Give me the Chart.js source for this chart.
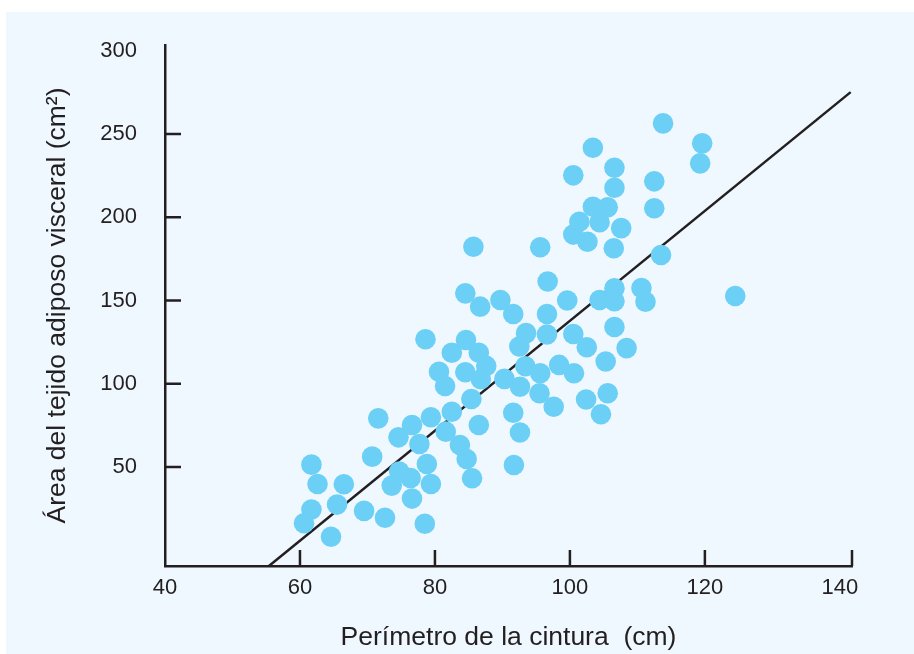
<!DOCTYPE html>
<html>
<head>
<meta charset="utf-8">
<script src="https://cdn.jsdelivr.net/npm/chart.js@4.4.1/dist/chart.umd.min.js"></script>
<style>
  html, body { margin: 0; padding: 0; background: #ffffff; }
  #wrap { width: 914px; height: 654px; position: relative; }
</style>
</head>
<body>
<div id="wrap"><canvas id="grasaChart" width="914" height="654"></canvas></div>
<script>
// Perímetro de la cintura (cm)
const waist = [
  78.6, 84.6, 82.5, 86.5, 87.6, 80.6, 84.5, 86.8, 81.5, 90.3,
  85.4, 82.5, 79.4, 71.6, 76.6, 74.6, 81.6, 86.5, 77.7, 83.7,
  84.7, 70.7, 78.8, 74.7, 76.4, 73.6, 79.4, 85.5, 61.7, 62.6,
  66.5, 76.6, 65.5, 61.7, 60.6, 69.5, 72.6, 78.5, 64.6,
  85.7, 95.6, 102.6, 106.5, 107.6, 96.7, 84.5, 86.7, 89.7, 91.6,
  99.6, 96.6, 104.4, 106.6, 106.6, 110.6, 111.2, 106.6, 108.4, 93.5,
  92.5, 96.6, 100.5, 102.5, 105.3, 93.4, 95.6, 92.6, 98.4, 100.6,
  95.5, 97.6, 102.4, 105.6, 104.6, 91.6, 92.6, 91.7, 100.5,
  113.8, 119.6, 119.3, 103.4, 106.6, 106.6, 100.5, 112.5, 112.5, 103.4,
  105.6, 104.4, 101.4, 113.5, 124.5
];
// Área del tejido adiposo visceral (cm²)
const vat = [
  126.7, 126.3, 118.6, 118.6, 110.7, 107.2, 106.9, 102.7, 98.6, 102.9,
  90.8, 83.2, 79.9, 79.2, 75.2, 67.8, 71.2, 75.2, 63.8, 63.2,
  54.8, 56.2, 51.8, 47.2, 43.4, 38.8, 39.8, 43.2, 51.4, 39.8,
  39.6, 31.0, 27.4, 24.4, 16.2, 23.6, 19.5, 15.9, 8.1,
  182.3, 182.0, 185.3, 181.4, 193.5, 161.4, 154.3, 146.3, 150.3, 141.9,
  150.0, 141.9, 150.3, 157.3, 149.6, 157.5, 149.3, 134.1, 121.4, 130.4,
  122.4, 129.6, 129.9, 121.9, 113.4, 110.5, 106.3, 98.2, 111.3, 106.3,
  94.3, 86.2, 90.5, 94.3, 81.7, 82.6, 70.7, 51.2, 189.6,
  256.4, 244.4, 232.4, 241.8, 229.8, 217.7, 225.2, 221.6, 205.4, 206.3,
  206.0, 197.0, 197.3, 177.3, 152.7
];
// recta de regresión
const fitX = [55.4, 141.6];
const fitY = [-9.5, 275.2];

const xTicks = [40, 60, 80, 100, 120, 140];
const yTicks = [50, 100, 150, 200, 250, 300];

const INK = '#231f20';
const FONT = "'Liberation Sans', Arial, Helvetica, sans-serif";

// fondo azul claro del recuadro
const panelBg = {
  id: 'panelBg',
  beforeDraw(chart) {
    const c = chart.ctx;
    c.save();
    c.fillStyle = '#eff8fe';
    c.fillRect(6, 12, chart.width - 6, chart.height - 12);
    c.restore();
  }
};

// marcas de graduación hacia dentro
const innerTicks = {
  id: 'innerTicks',
  afterDraw(chart) {
    const c = chart.ctx;
    const xs = chart.scales.x, ys = chart.scales.y;
    const area = chart.chartArea;
    c.save();
    c.strokeStyle = INK;
    c.lineWidth = 2.5;
    c.beginPath();
    xs.ticks.forEach(t => {
      if (t.value === xTicks[0] || t.value === xTicks[xTicks.length - 1]) return;
      const px = xs.getPixelForValue(t.value);
      c.moveTo(px, area.bottom);
      c.lineTo(px, area.bottom - 16);
    });
    // marca final en el extremo derecho del eje
    c.moveTo(area.right, area.bottom);
    c.lineTo(area.right, area.bottom - 16);
    ys.ticks.forEach(t => {
      if (t.value >= 300) return;
      const py = ys.getPixelForValue(t.value);
      c.moveTo(area.left, py);
      c.lineTo(area.left + 16, py);
    });
    c.stroke();
    c.restore();
  }
};

function initChart() {
  const ctx = document.getElementById('grasaChart');
  const points = waist.map((w, i) => ({ x: w, y: vat[i] }));

  new Chart(ctx, {
    type: 'scatter',
    data: {
      datasets: [{
        type: 'line',
        data: fitX.map((x, i) => ({ x: x, y: fitY[i] })),
        borderColor: INK,
        borderWidth: 2.5,
        pointRadius: 0,
        fill: false,
        order: 2
      }, {
        data: points,
        backgroundColor: '#6ccff6',
        borderColor: '#6ccff6',
        borderWidth: 0,
        pointRadius: 10.3,
        pointHoverRadius: 10.3,
        order: 1
      }]
    },
    options: {
      responsive: false,
      animation: false,
      layout: { padding: { left: 0, top: 45, right: 62, bottom: 0 } },
      plugins: {
        legend: { display: false },
        tooltip: { enabled: false }
      },
      scales: {
        x: {
          type: 'linear',
          min: 40,
          max: 141.8,
          afterBuildTicks: s => { s.ticks = xTicks.map(v => ({ value: v })); },
          afterFit: s => { s.height = 88; },
          grid: { display: false, drawTicks: false },
          border: { display: true, color: INK, width: 2.5 },
          ticks: { color: INK, padding: 9, font: { family: FONT, size: 22 } },
          title: {
            display: true,
            text: 'Perímetro de la cintura  (cm)',
            color: INK,
            font: { family: FONT, size: 26.5 },
            padding: { top: 0, bottom: 0 }
          }
        },
        y: {
          type: 'linear',
          min: -9.5,
          max: 303.5,
          afterBuildTicks: s => { s.ticks = yTicks.map(v => ({ value: v })); },
          afterFit: s => { s.width = 165; },
          grid: { display: false, drawTicks: false },
          border: { display: true, color: INK, width: 2.5 },
          ticks: { color: INK, padding: 28, font: { family: FONT, size: 22 } },
          title: {
            display: true,
            text: 'Área del tejido adiposo visceral (cm²)',
            color: INK,
            font: { family: FONT, size: 26.5 },
            padding: { top: 42, bottom: 0 }
          }
        }
      }
    },
    plugins: [panelBg, innerTicks]
  });
}

if (document.readyState === 'complete') {
  initChart();
} else {
  window.addEventListener('load', initChart);
}
</script>
</body>
</html>
